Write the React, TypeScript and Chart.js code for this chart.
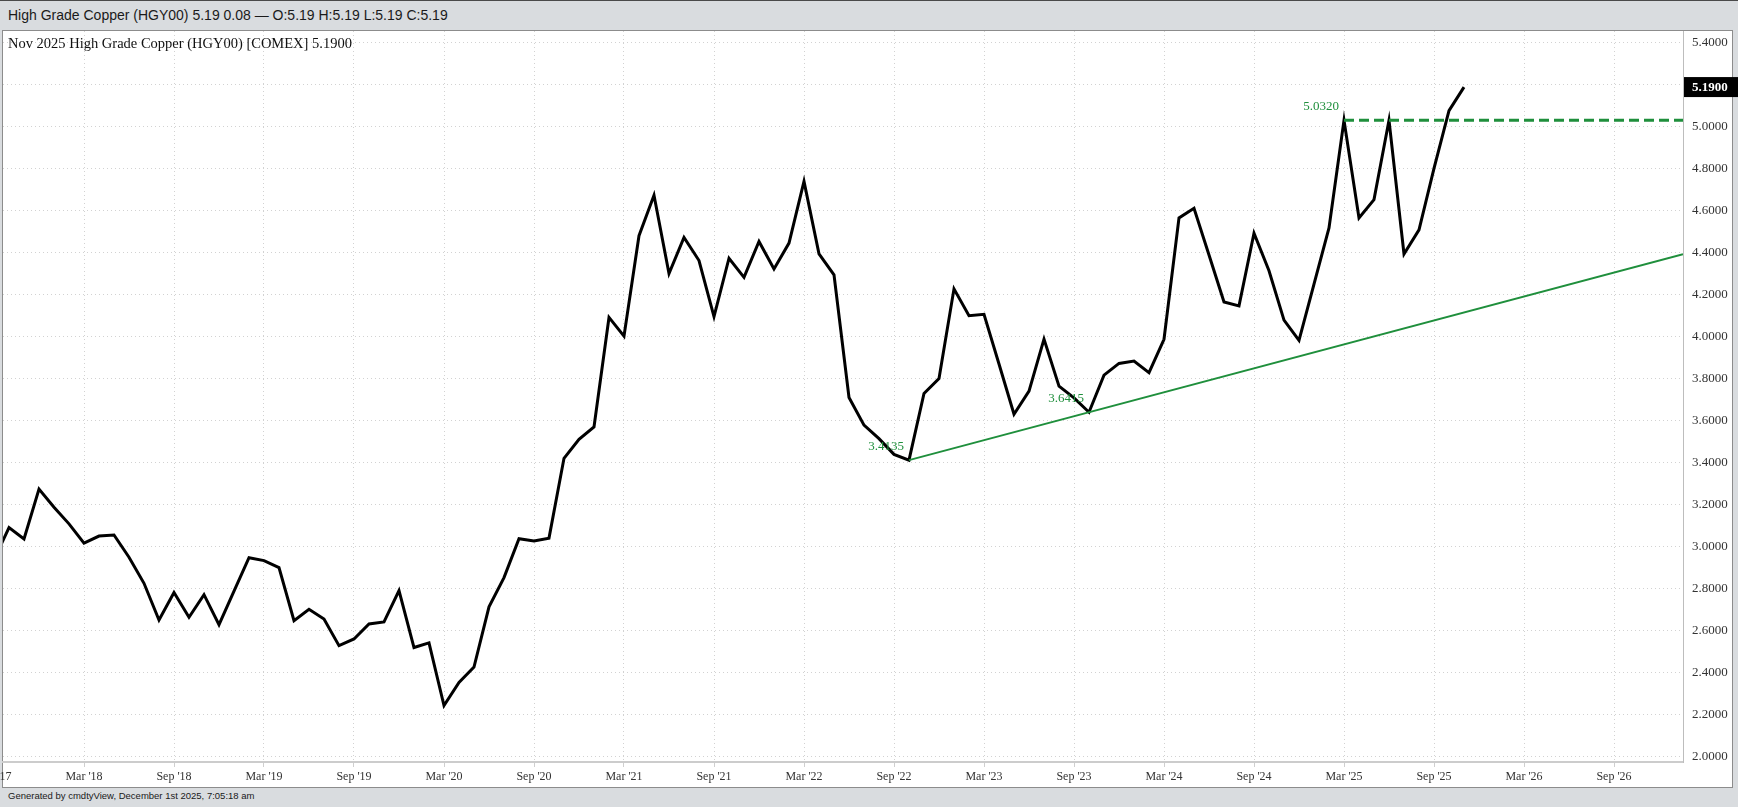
import React, { useEffect, useRef } from "react";
import { Chart, registerables } from "chart.js";

Chart.register(...registerables);

// Month index 0 = Mar 2018 tick. First close is Sep 2017 (index -6).
const FIRST_MONTH_INDEX = -6;
const closes: number[] = [
  2.94, 3.092, 3.038, 3.276, 3.189, 3.11,
  3.018, 3.052, 3.057, 2.951, 2.827, 2.652,
  2.783, 2.665, 2.773, 2.63, 2.79, 2.949,
  2.935, 2.902, 2.649, 2.703, 2.657, 2.53,
  2.562, 2.633, 2.643, 2.792, 2.521, 2.543,
  2.245, 2.355, 2.428, 2.715, 2.854, 3.039,
  3.029, 3.042, 3.422, 3.513, 3.572, 4.093,
  4.004, 4.482, 4.675, 4.302, 4.474, 4.364,
  4.097, 4.375, 4.284, 4.455, 4.324, 4.447,
  4.741, 4.396, 4.296, 3.712, 3.58, 3.516,
  3.441, 3.4135, 3.731, 3.802, 4.229, 4.101,
  4.108, 3.871, 3.632, 3.742, 3.99, 3.766,
  3.71, 3.6415, 3.818, 3.874, 3.885, 3.83,
  3.989, 4.567, 4.613, 4.39, 4.167, 4.148,
  4.494, 4.315, 4.08, 3.984, 4.252, 4.519,
  5.032, 4.567, 4.654, 5.032, 4.395, 4.51,
  4.803, 5.078, 5.19,
];

const xTickMonths: number[] = [0, 6, 12, 18, 24, 30, 36, 42, 48, 54, 60, 66, 72, 78, 84, 90, 96, 102];
const xTickLabels: string[] = [
  "Mar '18", "Sep '18", "Mar '19", "Sep '19", "Mar '20", "Sep '20",
  "Mar '21", "Sep '21", "Mar '22", "Sep '22", "Mar '23", "Sep '23",
  "Mar '24", "Sep '24", "Mar '25", "Sep '25", "Mar '26", "Sep '26",
];
const partialLeftLabel = { month: -6, text: "Sep '17" };
const yTickValues: number[] = [2.0, 2.2, 2.4, 2.6, 2.8, 3.0, 3.2, 3.4, 3.6, 3.8, 4.0, 4.2, 4.4, 4.6, 4.8, 5.0, 5.2, 5.4];

const X_MIN = -5.4;
const X_MAX = 106.6;
const Y_MIN = 1.976;
const Y_MAX = 5.457;

const trendLine = [
  { x: 55, y: 3.4135 },
  { x: 106.6, y: 4.394 },
];
const resistanceLine = [
  { x: 84, y: 5.032 },
  { x: 106.6, y: 5.032 },
];
const pivotLabels = [
  { x: 55, y: 3.4135, text: "3.4135" },
  { x: 67, y: 3.6415, text: "3.6415" },
  { x: 84, y: 5.032, text: "5.0320" },
];
const lastValue = 5.19;
const titleText = "Nov 2025 High Grade Copper (HGY00) [COMEX] 5.1900";
const headerText = "High Grade Copper (HGY00) 5.19 0.08 \u2014 O:5.19 H:5.19 L:5.19 C:5.19";
const footerText = "Generated by cmdtyView, December 1st 2025, 7:05:18 am";

const GREEN = "#1f8f3c";
const SERIF = '"Liberation Serif", "Times New Roman", serif';

export default function App() {
  const canvasRef = useRef<HTMLCanvasElement | null>(null);

  useEffect(() => {
    const canvas = canvasRef.current;
    if (!canvas) return;

    const overlay = {
      id: "overlay",
      afterDatasetsDraw(chart: any) {
        const ctx = chart.ctx;
        const xs = chart.scales.x;
        const ys = chart.scales.y;
        ctx.save();
        ctx.font = `13px ${SERIF}`;
        ctx.fillStyle = GREEN;
        ctx.textAlign = "right";
        ctx.textBaseline = "middle";
        for (const p of pivotLabels) {
          ctx.fillText(p.text, xs.getPixelForValue(p.x) - 5, ys.getPixelForValue(p.y) - 14);
        }
        ctx.restore();
      },
      afterDraw(chart: any) {
        const ctx = chart.ctx;
        const xs = chart.scales.x;
        const ys = chart.scales.y;
        const area = chart.chartArea;
        ctx.save();
        // title
        ctx.font = `14.5px ${SERIF}`;
        ctx.fillStyle = "#111";
        ctx.textAlign = "left";
        ctx.textBaseline = "middle";
        ctx.fillText(titleText, 8, 13);
        // partial left x label
        ctx.font = `12px ${SERIF}`;
        ctx.fillStyle = "#333";
        ctx.textAlign = "center";
        ctx.fillText(partialLeftLabel.text, xs.getPixelForValue(partialLeftLabel.month), area.bottom + 15);
        // last value box
        const yv = ys.getPixelForValue(lastValue);
        ctx.fillStyle = "#000";
        ctx.fillRect(area.right + 1, yv - 10, chart.width - area.right - 1, 20);
        ctx.font = `bold 13px ${SERIF}`;
        ctx.fillStyle = "#fff";
        ctx.textAlign = "left";
        ctx.fillText(lastValue.toFixed(4), area.right + 9, yv + 1);
        ctx.restore();
      },
    };

    const chart = new Chart(canvas, {
      type: "line",
      data: {
        datasets: [
          {
            data: resistanceLine,
            borderColor: GREEN,
            borderWidth: 3,
            borderDash: [10, 5],
            pointRadius: 0,
            fill: false,
          },
          {
            data: trendLine,
            borderColor: GREEN,
            borderWidth: 2,
            pointRadius: 0,
            fill: false,
          },
          {
            data: closes.map((v, i) => ({ x: FIRST_MONTH_INDEX + i, y: v })),
            borderColor: "#000",
            borderWidth: 3,
            pointRadius: 0,
            tension: 0,
            fill: false,
            borderJoinStyle: "miter",
          },
        ],
      },
      options: {
        animation: false,
        responsive: false,
        events: [],
        layout: { padding: { left: 3, right: 0, top: 0, bottom: 0 } },
        plugins: { legend: { display: false }, tooltip: { enabled: false }, title: { display: false } },
        scales: {
          x: {
            type: "linear",
            min: X_MIN,
            max: X_MAX,
            afterBuildTicks: (scale: any) => {
              scale.ticks = xTickMonths.map((m) => ({ value: m }));
            },
            afterFit: (scale: any) => {
              scale.height = 26;
              scale.paddingLeft = 0;
              scale.paddingRight = 0;
              scale.paddingTop = 0;
              scale.paddingBottom = 0;
            },
            ticks: {
              autoSkip: false,
              maxRotation: 0,
              padding: 3,
              color: "#333",
              font: { family: SERIF, size: 12 },
              callback: (v: any) => {
                const idx = xTickMonths.indexOf(Number(v));
                return idx >= 0 ? xTickLabels[idx] : "";
              },
            },
            grid: {
              color: "#d2d2d2",
              lineWidth: 1,
              drawTicks: true,
              tickLength: 5,
              tickColor: "#cfcfcf",
            },
            border: { display: true, color: "#cccccc", width: 2, dash: [1, 3] },
          },
          y: {
            type: "linear",
            position: "right",
            min: Y_MIN,
            max: Y_MAX,
            afterBuildTicks: (scale: any) => {
              scale.ticks = yTickValues.map((v) => ({ value: v }));
            },
            afterFit: (scale: any) => {
              scale.width = 55;
              scale.paddingTop = 0;
              scale.paddingBottom = 0;
              scale.paddingLeft = 0;
              scale.paddingRight = 0;
            },
            ticks: {
              padding: 9,
              color: "#333",
              font: { family: SERIF, size: 13 },
              callback: (v: any) => Number(v).toFixed(4),
            },
            grid: { color: "#d2d2d2", lineWidth: 1, drawTicks: false },
            border: { display: true, color: "#bdbdbd", width: 1, dash: [1, 3] },
          },
        },
      },
      plugins: [overlay],
    } as any);

    return () => chart.destroy();
  }, []);

  return (
    <div
      style={{
        position: "fixed",
        left: 0,
        top: 0,
        width: 1738,
        height: 807,
        background: "#d9dcdf",
        overflow: "hidden",
      }}
    >
      <div style={{ position: "absolute", left: 0, top: 0, width: 1738, height: 1, background: "#4a4a4a" }} />
      <div
        style={{
          position: "absolute",
          left: 8,
          top: 7,
          font: '14px "Liberation Sans", Arial, sans-serif',
          color: "#1a1a1a",
          whiteSpace: "nowrap",
        }}
      >
        {headerText}
      </div>
      <div
        style={{
          position: "absolute",
          left: 2,
          top: 30,
          width: 1731,
          height: 758,
          background: "#fff",
          border: "1px solid #8c8c8c",
          boxSizing: "border-box",
        }}
      />
      <canvas
        ref={canvasRef}
        width={1738}
        height={757}
        style={{ position: "absolute", left: 0, top: 31, width: 1738, height: 757 }}
      />
      <div
        style={{
          position: "absolute",
          left: 8,
          top: 790,
          font: '9.5px "Liberation Sans", Arial, sans-serif',
          color: "#1a1a1a",
          whiteSpace: "nowrap",
        }}
      >
        {footerText}
      </div>
    </div>
  );
}
